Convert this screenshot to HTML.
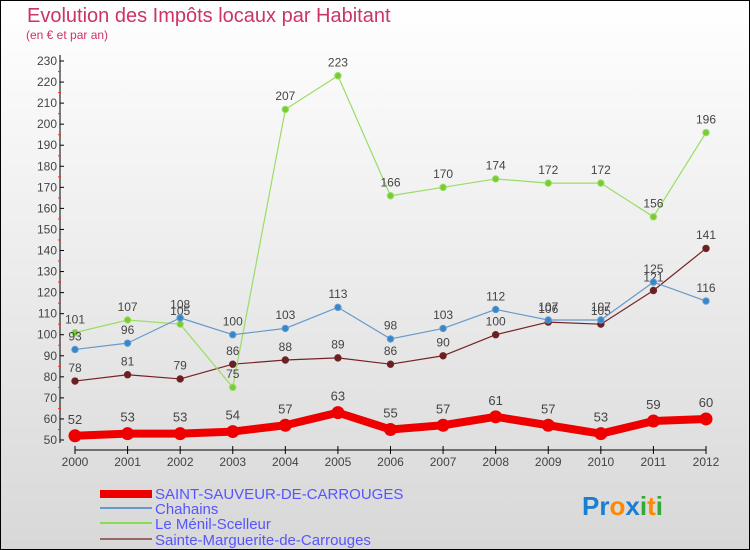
<!DOCTYPE html>
<html><head><meta charset="utf-8"><style>
html,body{margin:0;padding:0}
body{width:750px;height:550px;overflow:hidden;font-family:"Liberation Sans",sans-serif}
#wrap{position:absolute;left:0;top:0;width:748px;height:548px;border:1px solid #000;background:linear-gradient(#ffffff,#d8d8d8)}
</style></head><body>
<div id="wrap">
<svg id="chart" width="750" height="550" style="position:absolute;left:-1px;top:-1px">
<text x="27" y="22" font-size="20" fill="#cc3366">Evolution des Impôts locaux par Habitant</text>
<text x="26" y="39" font-size="12" fill="#cc3366">(en € et par an)</text>
<g id="axes"></g><g id="series"></g>
<g>
<rect x="100" y="490" width="52" height="8" fill="#ee0000"/>
<text x="155" y="499" font-size="15" fill="#5555ff">SAINT-SAUVEUR-DE-CARROUGES</text>
<line x1="100" y1="508" x2="152" y2="508" stroke="#6699cc" stroke-width="2"/>
<text x="155" y="514" font-size="15" fill="#5555ff">Chahains</text>
<line x1="100" y1="523" x2="152" y2="523" stroke="#88dd55" stroke-width="2"/>
<text x="155" y="529" font-size="15" fill="#5555ff">Le Ménil-Scelleur</text>
<line x1="100" y1="539" x2="152" y2="539" stroke="#996666" stroke-width="2"/>
<text x="155" y="545" font-size="15" fill="#5555ff">Sainte-Marguerite-de-Carrouges</text>
</g>
<text x="582" y="515" font-size="26" font-weight="bold"><tspan fill="#1a7fd4">Pr</tspan><tspan fill="#ff8800">o</tspan><tspan fill="#1a7fd4">x</tspan><tspan fill="#33aa33">i</tspan><tspan fill="#ff8800">t</tspan><tspan fill="#33aa33">i</tspan></text>
</svg>
</div>
<script>
const years=["2000","2001","2002","2003","2004","2005","2006","2007","2008","2009","2010","2011","2012"];
const yTicks=[50,60,70,80,90,100,110,120,130,140,150,160,170,180,190,200,210,220,230];
const saintSauveur=[52,53,53,54,57,63,55,57,61,57,53,59,60];
const chahains=[93,96,108,100,103,113,98,103,112,107,107,125,116];
const menil=[101,107,105,75,207,223,166,170,174,172,172,156,196];
const marguerite=[78,81,79,86,88,89,86,90,100,106,105,121,141];
const NS="http://www.w3.org/2000/svg";
function xS(i){return 75+i*(706-75)/(years.length-1);}
function yS(v){return 440-(v-50)*(440-61)/180;}
function mk(tag,attrs,parent){const e=document.createElementNS(NS,tag);for(const k in attrs)e.setAttribute(k,attrs[k]);parent.appendChild(e);return e;}
const ax=document.getElementById('axes');
let a=mk('line',{x1:60,y1:55,x2:60,y2:443,stroke:'#000'},ax);


a=mk('line',{x1:75,y1:450,x2:706,y2:450,stroke:'#000'},ax);


yTicks.forEach(v=>{const y=yS(v);
 mk('line',{x1:60,y1:y,x2:64,y2:y,stroke:'#000'},ax);
 if(v<230)mk('line',{x1:58,y1:y-10.5,x2:61,y2:y-10.5,stroke:'#ee3333'},ax);
 const t=mk('text',{x:57,y:y+4,'font-size':12,'text-anchor':'end',fill:'#444'},ax);t.textContent=v;
 
 });
years.forEach((yr,i)=>{const x=xS(i);
 mk('line',{x1:x,y1:446,x2:x,y2:454,stroke:'#000'},ax);
 const t=mk('text',{x:x,y:466,'font-size':12,'text-anchor':'middle',fill:'#444'},ax);t.textContent=yr;
 
 });
const sg=document.getElementById('series');
function draw(data,color,dot,w,r,name,fs){
 const g=mk('g',{},sg);
 
 
 const pl=mk('polyline',{points:data.map((v,i)=>xS(i)+','+yS(v)).join(' '),fill:'none',stroke:color,'stroke-width':w,'stroke-linejoin':'round'},g);
 
 
 data.forEach((v,i)=>{const c=mk('circle',{cx:xS(i),cy:yS(v),r:r,fill:dot,stroke:color,'stroke-width':1},g);
  
  
  const t=mk('text',{x:xS(i),y:yS(v)-(r+6),'font-size':fs,'text-anchor':'middle',fill:'#444'},g);t.textContent=v;
  
  });
}
draw(marguerite,'#772222','#662222',1.2,3.2,'marguerite',12);
draw(menil,'#99dd66','#77cc33',1.2,3.2,'menil',12);
draw(chahains,'#6699cc','#3388cc',1.2,3.2,'chahains',12);
draw(saintSauveur,'#ee0000','#ee0000',8,6,'saint-sauveur',13);
</script>
</body></html>
